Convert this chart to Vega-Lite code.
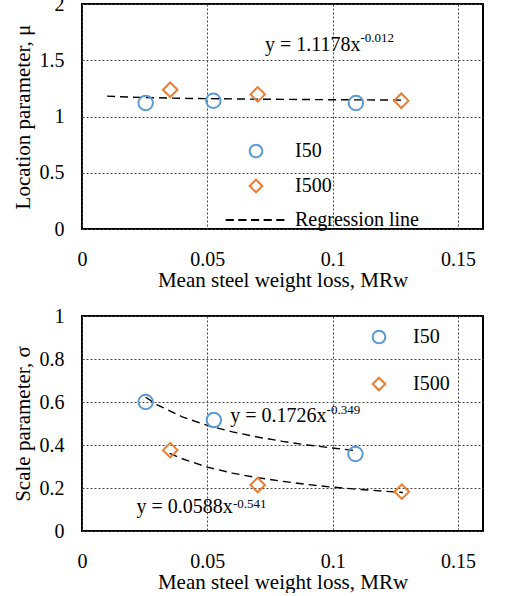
{
  "$schema": "https://vega.github.io/schema/vega-lite/v6.json",
  "padding": {"left": 11, "top": -7, "right": 5, "bottom": 0},
  "spacing": 14,
  "config": {
    "font": "Liberation Serif",
    "view": {"stroke": "black", "strokeWidth": 2},
    "style": {"guide-label": {"font": "Liberation Serif"}, "guide-title": {"font": "Liberation Serif"}},
    "axis": {
      "labelFont": "Liberation Serif", "labelFontSize": 20, "labelColor": "black",
      "titleFont": "Liberation Serif", "titleFontSize": 21, "titleFontWeight": "normal", "titleColor": "black",
      "domain": false, "ticks": false, "grid": true, "gridDash": [2, 2], "gridColor": "#444", "gridWidth": 1,
      "labelFlush": false, "labelOverlap": false, "format": "~g"
    },
    "axisX": {"labelPadding": 20, "titlePadding": 0, "labelFont": "Liberation Serif"},
    "axisY": {"labelPadding": 18, "titlePadding": 6, "labelFont": "Liberation Serif"},
    "legend": {"labelFont": "Liberation Serif", "labelFontSize": 20, "labelColor": "black", "symbolStrokeWidth": 2, "symbolSize": 160, "padding": 0, "title": null}
  },
  "resolve": {"scale": {"color": "independent", "shape": "independent"}, "legend": {"color": "independent", "shape": "independent"}},
  "datasets": {
    "top_pts": [
      {"series": "I50", "x": 0.0254, "y": 1.12},
      {"series": "I50", "x": 0.0524, "y": 1.14},
      {"series": "I50", "x": 0.1093, "y": 1.12},
      {"series": "I500", "x": 0.0352, "y": 1.238},
      {"series": "I500", "x": 0.0701, "y": 1.197},
      {"series": "I500", "x": 0.1274, "y": 1.14}
    ],
    "top_line": [
      {"x": 0.01, "y": 1.181},
      {"x": 0.02, "y": 1.1715},
      {"x": 0.04, "y": 1.1618},
      {"x": 0.06, "y": 1.1562},
      {"x": 0.08, "y": 1.1522},
      {"x": 0.1, "y": 1.1491},
      {"x": 0.128, "y": 1.1457}
    ],
    "top_ann": [
      {"x": 0.1111, "y_main": 1.582, "y_sup": 1.662, "main": "y = 1.1178x", "sup": "-0.012"}
    ],
    "bot_pts": [
      {"series": "I50", "x": 0.0254, "y": 0.6},
      {"series": "I50", "x": 0.0526, "y": 0.516},
      {"series": "I50", "x": 0.1091, "y": 0.358},
      {"series": "I500", "x": 0.0352, "y": 0.376},
      {"series": "I500", "x": 0.0701, "y": 0.214},
      {"series": "I500", "x": 0.1276, "y": 0.183}
    ],
    "bot_line": [
      {"series": "I50", "x": 0.0254, "y": 0.622},
      {"series": "I50", "x": 0.03, "y": 0.587},
      {"series": "I50", "x": 0.04, "y": 0.531},
      {"series": "I50", "x": 0.05, "y": 0.491},
      {"series": "I50", "x": 0.06, "y": 0.461},
      {"series": "I50", "x": 0.07, "y": 0.437},
      {"series": "I50", "x": 0.08, "y": 0.417},
      {"series": "I50", "x": 0.09, "y": 0.4},
      {"series": "I50", "x": 0.1, "y": 0.386},
      {"series": "I50", "x": 0.109, "y": 0.374},
      {"series": "I500", "x": 0.035, "y": 0.361},
      {"series": "I500", "x": 0.04, "y": 0.336},
      {"series": "I500", "x": 0.05, "y": 0.297},
      {"series": "I500", "x": 0.06, "y": 0.269},
      {"series": "I500", "x": 0.07, "y": 0.248},
      {"series": "I500", "x": 0.08, "y": 0.231},
      {"series": "I500", "x": 0.09, "y": 0.216},
      {"series": "I500", "x": 0.1, "y": 0.204},
      {"series": "I500", "x": 0.11, "y": 0.194},
      {"series": "I500", "x": 0.128, "y": 0.179}
    ],
    "bot_ann": [
      {"x": 0.0976, "y_main": 0.507, "y_sup": 0.544, "main": "y = 0.1726x", "sup": "-0.349"},
      {"x": 0.0602, "y_main": 0.084, "y_sup": 0.107, "main": "y = 0.0588x", "sup": "-0.541"}
    ]
  },
  "vconcat": [
    {
      "width": 401, "height": 225,
      "layer": [
        {
          "data": {"name": "top_line"},
          "mark": {"type": "line", "color": "black", "strokeDash": [8, 5], "strokeWidth": 1.4},
          "encoding": {
            "x": {"field": "x", "type": "quantitative", "scale": {"domain": [0, 0.15]}, "axis": {"values": [0, 0.05, 0.1, 0.15], "labelFont": "Liberation Serif"}, "title": "Mean steel weight loss, MRw"},
            "y": {"field": "y", "type": "quantitative", "scale": {"domain": [0, 2]}, "axis": {"values": [0, 0.5, 1, 1.5, 2], "labelFont": "Liberation Serif"}, "title": "Location parameter, μ"}
          }
        },
        {
          "data": {"name": "top_pts"},
          "mark": {"type": "point", "filled": false, "strokeWidth": 2, "size": 210, "opacity": 1},
          "encoding": {
            "x": {"field": "x", "type": "quantitative"},
            "y": {"field": "y", "type": "quantitative"},
            "color": {"field": "series", "type": "nominal",
              "scale": {"domain": ["I50", "I500", "Regression line"], "range": ["#5B9BD5", "#ED7D31", "black"]},
              "legend": {"orient": "none", "legendX": 164, "legendY": 137, "labelOffset": 29, "rowPadding": 13}},
            "shape": {"field": "series", "type": "nominal",
              "scale": {"domain": ["I50", "I500", "Regression line"], "range": ["circle", "diamond", "M-4.8,0H-3.5M-2.8,0H-1.5M-0.8,0H0.5M1.2,0H2.5M3.2,0H4.5"]},
              "legend": {"orient": "none", "legendX": 164, "legendY": 137, "labelOffset": 29, "rowPadding": 13}}
          }
        },
        {
          "data": {"name": "top_ann"},
          "mark": {"type": "text", "align": "right", "baseline": "alphabetic", "fontSize": 20, "font": "Liberation Serif", "color": "black"},
          "encoding": {
            "x": {"field": "x", "type": "quantitative"},
            "y": {"field": "y_main", "type": "quantitative"},
            "text": {"field": "main"}
          }
        },
        {
          "data": {"name": "top_ann"},
          "mark": {"type": "text", "align": "left", "baseline": "alphabetic", "fontSize": 13, "font": "Liberation Serif", "color": "black"},
          "encoding": {
            "x": {"field": "x", "type": "quantitative"},
            "y": {"field": "y_sup", "type": "quantitative"},
            "text": {"field": "sup"}
          }
        }
      ]
    },
    {
      "width": 401, "height": 215,
      "layer": [
        {
          "data": {"name": "bot_line"},
          "mark": {"type": "line", "color": "black", "strokeDash": [8, 5], "strokeWidth": 1.4},
          "encoding": {
            "x": {"field": "x", "type": "quantitative", "scale": {"domain": [0, 0.15]}, "axis": {"values": [0, 0.05, 0.1, 0.15], "labelFont": "Liberation Serif"}, "title": "Mean steel weight loss, MRw"},
            "y": {"field": "y", "type": "quantitative", "scale": {"domain": [0, 1]}, "axis": {"values": [0, 0.2, 0.4, 0.6, 0.8, 1], "labelFont": "Liberation Serif"}, "title": "Scale parameter, σ"},
            "detail": {"field": "series"}
          }
        },
        {
          "data": {"name": "bot_pts"},
          "mark": {"type": "point", "filled": false, "strokeWidth": 2, "size": 210, "opacity": 1},
          "encoding": {
            "x": {"field": "x", "type": "quantitative"},
            "y": {"field": "y", "type": "quantitative"},
            "color": {"field": "series", "type": "nominal",
              "scale": {"domain": ["I50", "I500"], "range": ["#5B9BD5", "#ED7D31"]},
              "legend": {"orient": "none", "legendX": 287, "legendY": 11, "labelOffset": 24, "rowPadding": 25}},
            "shape": {"field": "series", "type": "nominal",
              "scale": {"domain": ["I50", "I500"], "range": ["circle", "diamond"]},
              "legend": {"orient": "none", "legendX": 287, "legendY": 11, "labelOffset": 24, "rowPadding": 25}}
          }
        },
        {
          "data": {"name": "bot_ann"},
          "mark": {"type": "text", "align": "right", "baseline": "alphabetic", "fontSize": 20, "font": "Liberation Serif", "color": "black"},
          "encoding": {
            "x": {"field": "x", "type": "quantitative"},
            "y": {"field": "y_main", "type": "quantitative"},
            "text": {"field": "main"}
          }
        },
        {
          "data": {"name": "bot_ann"},
          "mark": {"type": "text", "align": "left", "baseline": "alphabetic", "fontSize": 13, "font": "Liberation Serif", "color": "black"},
          "encoding": {
            "x": {"field": "x", "type": "quantitative"},
            "y": {"field": "y_sup", "type": "quantitative"},
            "text": {"field": "sup"}
          }
        }
      ]
    }
  ]
}
